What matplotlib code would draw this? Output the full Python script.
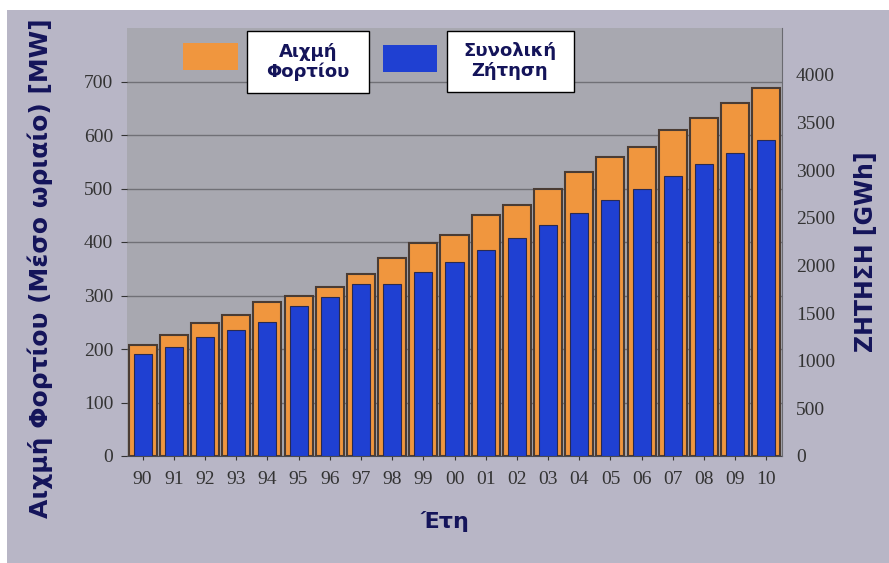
import matplotlib.pyplot as plt
from matplotlib.patches import Rectangle

# Data
years = ["90", "91", "92", "93", "94", "95", "96", "97", "98", "99", "00",
         "01", "02", "03", "04", "05", "06", "07", "08", "09", "10"]
peak_mw = [208, 226, 248, 263, 287, 299, 316, 341, 371, 399, 414,
           450, 469, 500, 530, 558, 578, 610, 632, 660, 688]
demand_gwh = [1075, 1140, 1245, 1320, 1405, 1570, 1665, 1810, 1810, 1935, 2040,
              2165, 2290, 2420, 2555, 2690, 2805, 2940, 3065, 3180, 3320]

navy = "#14145a"
orange = "#f0963e"
blue = "#1f40d2"
W, H = 889, 563

fig = plt.figure(figsize=(W / 100, H / 100), dpi=100)
fig.patch.set_facecolor("white")
# lavender panel behind everything
fig.patches.append(Rectangle((7 / W, 0), 1, 1 - 10 / H, transform=fig.transFigure,
                             facecolor="#b8b6c6", edgecolor="none", zorder=-10))

ax = fig.add_axes([127 / W, 1 - 456 / H, (782 - 127) / W, (456 - 28) / H])
ax.set_facecolor("#a8a8b0")
x = list(range(len(years)))

ax.bar(x, peak_mw, width=0.9, color=orange, edgecolor="#4a3c34", linewidth=1.5, zorder=2)
ax.set_ylim(0, 800)
ax.set_xlim(-0.5, len(years) - 0.5)
ax.set_yticks(range(0, 701, 100))
ax.yaxis.grid(True, color="#707076", linewidth=1)
ax.set_axisbelow(True)
ax.set_xticks(x)
ax.set_xticklabels(years)

ax2 = ax.twinx()
ax2.bar(x, demand_gwh, width=0.58, color=blue, edgecolor="#2a2a50", linewidth=0.8, zorder=3)
ax2.set_ylim(0, 4492)
ax2.set_yticks(range(0, 4001, 500))

for a in (ax, ax2):
    for s in a.spines.values():
        s.set_visible(False)
    a.tick_params(labelsize=14, colors="#333333", length=4, width=0.8)
    for lbl in a.get_xticklabels() + a.get_yticklabels():
        lbl.set_family("Liberation Serif")
ax.spines["bottom"].set_visible(True)
ax.spines["bottom"].set_color("#4a4a50")
ax2.spines["right"].set_visible(True)
ax2.spines["right"].set_color("#6a6a70")
ax.tick_params(axis="x", pad=8, length=3)
ax.tick_params(axis="y", pad=6)
ax2.tick_params(axis="y", pad=10, length=0)

fig.text(40 / W, 1 - 268 / H, "Αιχμή Φορτίου (Μέσο ωριαίο) [MW]", rotation=90,
         ha="center", va="center", fontsize=18, fontweight="bold", color=navy)
fig.text(866 / W, 1 - 252 / H, "ΖΗΤΗΣΗ [GWh]", rotation=90,
         ha="center", va="center", fontsize=17, fontweight="bold", color=navy)
fig.text(445 / W, 1 - 522 / H, "Έτη", ha="center", va="center",
         fontsize=16, fontweight="bold", color=navy)

# legend drawn as swatches and boxed labels
fig.patches.append(Rectangle((183 / W, 1 - 70 / H), 55 / W, 27 / H, transform=fig.transFigure,
                             facecolor=orange, edgecolor="none"))
fig.patches.append(Rectangle((383 / W, 1 - 72 / H), 54 / W, 27 / H, transform=fig.transFigure,
                             facecolor=blue, edgecolor="none"))
fig.patches.append(Rectangle((247 / W, 1 - 93 / H), 122 / W, 62 / H, transform=fig.transFigure,
                             facecolor="white", edgecolor="black", linewidth=1))
fig.patches.append(Rectangle((447 / W, 1 - 92 / H), 127 / W, 61 / H, transform=fig.transFigure,
                             facecolor="white", edgecolor="black", linewidth=1))
fig.text(308 / W, 1 - 62 / H, "Αιχμή\nΦορτίου", ha="center", va="center",
         fontsize=13, fontweight="bold", color=navy, linespacing=1.15)
fig.text(510 / W, 1 - 61 / H, "Συνολική\nΖήτηση", ha="center", va="center",
         fontsize=13, fontweight="bold", color=navy, linespacing=1.15)

fig.savefig("out.png", dpi=100)
